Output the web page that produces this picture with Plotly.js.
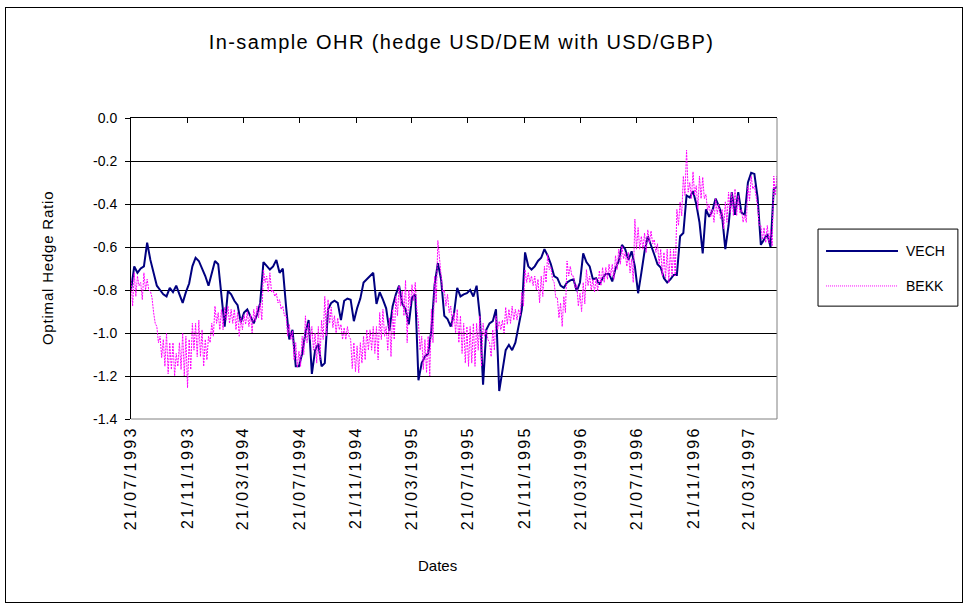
<!DOCTYPE html>
<html><head><meta charset="utf-8">
<script src="https://cdn.plot.ly/plotly-3.0.1.min.js"></script>
<style>
html,body{margin:0;padding:0;background:#fff;}
#wrap{position:relative;width:968px;height:608px;}
#chart{width:968px;height:608px;}
#frame{position:absolute;left:5px;top:7px;width:956px;height:594px;border:1px solid #000;pointer-events:none;}
#chart .xtick text{letter-spacing:2.4px;}
#chart .gtitle{letter-spacing:1.4px;}
#chart g.annotation[data-index="2"] text{letter-spacing:0.8px;}
</style></head>
<body><div id="wrap"><div id="chart"></div><div id="frame"></div></div>
<script>
// ---- data (weekly observations starting 21/07/1993) ----
const startDate = '1993-07-21';
const stepDays = 7;

const vech = [
-0.80,-0.69,-0.72,-0.70,-0.69,-0.58,-0.66,-0.72,-0.78,-0.80,
-0.82,-0.83,-0.79,-0.81,-0.78,-0.82,-0.86,-0.81,-0.77,-0.69,
-0.65,-0.665,-0.70,-0.735,-0.78,-0.72,-0.665,-0.68,-0.83,-0.97,
-0.805,-0.82,-0.85,-0.87,-0.95,-0.905,-0.89,-0.92,-0.955,-0.915,
-0.86,-0.67,-0.69,-0.705,-0.69,-0.66,-0.72,-0.70,-0.875,-1.03,
-0.985,-1.155,-1.155,-1.095,-1.00,-0.94,-1.19,-1.08,-1.05,-1.155,
-1.14,-0.89,-0.86,-0.85,-0.86,-0.94,-0.85,-0.84,-0.845,-0.945,
-0.885,-0.84,-0.765,-0.75,-0.735,-0.72,-0.865,-0.81,-0.845,-0.885,
-0.99,-0.875,-0.82,-0.78,-0.865,-0.89,-0.96,-0.835,-0.82,-1.22,
-1.14,-1.11,-1.095,-0.985,-0.775,-0.675,-0.75,-0.92,-0.935,-0.97,
-0.91,-0.79,-0.83,-0.82,-0.815,-0.80,-0.83,-0.78,-0.92,-1.24,
-0.985,-0.955,-0.945,-0.89,-1.27,-1.18,-1.08,-1.055,-1.08,-1.045,
-0.975,-0.89,-0.625,-0.69,-0.705,-0.69,-0.665,-0.65,-0.61,-0.64,
-0.68,-0.735,-0.745,-0.78,-0.79,-0.765,-0.755,-0.75,-0.805,-0.765,
-0.63,-0.67,-0.69,-0.75,-0.745,-0.775,-0.745,-0.725,-0.725,-0.76,
-0.70,-0.665,-0.59,-0.61,-0.66,-0.62,-0.69,-0.815,-0.72,-0.62,
-0.55,-0.59,-0.635,-0.68,-0.695,-0.745,-0.765,-0.75,-0.73,-0.73,
-0.55,-0.535,-0.36,-0.37,-0.34,-0.40,-0.485,-0.63,-0.425,-0.46,
-0.43,-0.375,-0.41,-0.455,-0.61,-0.50,-0.345,-0.45,-0.345,-0.44,
-0.45,-0.30,-0.255,-0.26,-0.37,-0.59,-0.565,-0.54,-0.60,-0.33,
-0.32
];

// BEKK oscillates strongly within each week: upper and lower reading per week
const bekkUpper = [
-0.75,-0.72,-0.735,-0.765,-0.72,-0.75,-0.805,-0.905,-0.97,-1.015,
-1.03,-1.0,-1.045,-1.045,-1.095,-1.045,-1.0,-1.015,-1.03,-0.955,
-0.955,-0.94,-0.985,-1.03,-1.015,-0.955,-0.875,-0.905,-0.89,-0.88,
-0.875,-0.89,-0.89,-0.905,-0.93,-0.915,-0.90,-0.915,-0.89,-0.875,
-0.86,-0.705,-0.735,-0.72,-0.80,-0.815,-0.845,-0.875,-0.915,-0.96,
-0.99,-1.045,-1.085,-1.015,-0.92,-0.955,-0.97,-1.0,-0.97,-0.94,
-0.83,-0.845,-0.88,-0.92,-0.93,-0.96,-0.975,-0.97,-1.03,-1.045,
-1.06,-1.045,-1.015,-0.985,-0.985,-0.97,-0.97,-0.905,-0.89,-0.97,
-0.93,-0.89,-0.83,-0.78,-0.805,-0.755,-0.80,-0.775,-0.765,-0.955,
-1.015,-1.03,-1.015,-0.89,-0.735,-0.57,-0.72,-0.80,-0.82,-0.875,
-0.905,-0.89,-0.92,-0.955,-0.97,-0.97,-0.955,-0.955,-0.92,-0.955,
-0.985,-1.045,-0.985,-0.92,-0.945,-0.94,-0.88,-0.89,-0.875,-0.89,
-0.89,-0.81,-0.705,-0.72,-0.735,-0.735,-0.75,-0.735,-0.69,-0.635,
-0.695,-0.765,-0.835,-0.86,-0.83,-0.665,-0.69,-0.735,-0.775,-0.815,
-0.765,-0.705,-0.735,-0.75,-0.745,-0.71,-0.695,-0.695,-0.68,-0.68,
-0.64,-0.61,-0.595,-0.625,-0.625,-0.655,-0.47,-0.51,-0.55,-0.535,
-0.52,-0.525,-0.565,-0.585,-0.61,-0.625,-0.61,-0.61,-0.61,-0.425,
-0.39,-0.27,-0.15,-0.30,-0.25,-0.315,-0.27,-0.275,-0.355,-0.40,
-0.425,-0.375,-0.40,-0.425,-0.39,-0.345,-0.345,-0.33,-0.36,-0.425,
-0.45,-0.315,-0.27,-0.315,-0.41,-0.50,-0.51,-0.50,-0.52,-0.27,
-0.27
];
const bekkLower = [
-0.875,-0.83,-0.78,-0.845,-0.80,-0.80,-0.835,-0.955,-1.045,-1.115,
-1.155,-1.19,-1.17,-1.20,-1.155,-1.17,-1.20,-1.255,-1.17,-1.08,
-1.11,-1.11,-1.155,-1.125,-1.045,-1.015,-0.955,-0.985,-0.985,-0.94,
-0.955,-0.955,-0.985,-1.015,-0.985,-0.96,-0.97,-1.0,-0.945,-0.93,
-0.94,-0.765,-0.81,-0.81,-0.83,-0.86,-0.89,-0.92,-1.015,-1.03,
-1.125,-1.16,-1.155,-1.10,-1.045,-1.03,-1.08,-1.14,-1.125,-1.03,
-1.015,-0.955,-0.975,-1.0,-0.985,-1.03,-1.03,-1.015,-1.165,-1.18,
-1.185,-1.14,-1.125,-1.08,-1.08,-1.095,-1.125,-1.03,-1.015,-1.08,
-1.11,-1.03,-0.92,-0.875,-0.92,-1.045,-0.875,-0.85,-0.89,-1.08,
-1.17,-1.185,-1.20,-1.045,-0.86,-0.655,-0.81,-0.875,-0.905,-0.97,
-1.0,-1.045,-1.095,-1.14,-1.155,-1.14,-1.155,-1.08,-1.155,-1.015,
-1.03,-1.11,-1.08,-0.985,-0.985,-1.0,-0.96,-0.955,-0.94,-0.94,
-0.92,-0.875,-0.765,-0.765,-0.78,-0.80,-0.86,-0.83,-0.765,-0.705,
-0.75,-0.835,-0.93,-0.97,-0.905,-0.735,-0.735,-0.79,-0.875,-0.90,
-0.865,-0.78,-0.80,-0.81,-0.805,-0.78,-0.765,-0.75,-0.735,-0.75,
-0.705,-0.68,-0.655,-0.69,-0.72,-0.765,-0.61,-0.61,-0.61,-0.625,
-0.58,-0.585,-0.625,-0.68,-0.735,-0.745,-0.765,-0.735,-0.735,-0.50,
-0.455,-0.36,-0.345,-0.375,-0.36,-0.425,-0.375,-0.375,-0.43,-0.46,
-0.485,-0.445,-0.47,-0.515,-0.485,-0.44,-0.455,-0.455,-0.44,-0.485,
-0.485,-0.385,-0.33,-0.375,-0.50,-0.565,-0.58,-0.58,-0.595,-0.36,
-0.345
];

const tickDates = ['1993-07-21','1993-11-21','1994-03-21','1994-07-21','1994-11-21','1995-03-21',
                   '1995-07-21','1995-11-21','1996-03-21','1996-07-21','1996-11-21','1997-03-21'];
const tickLabels = ['21/07/1993','21/11/1993','21/03/1994','21/07/1994','21/11/1994','21/03/1995',
                    '21/07/1995','21/11/1995','21/03/1996','21/07/1996','21/11/1996','21/03/1997'];
const yTicks = [0,-0.2,-0.4,-0.6,-0.8,-1.0,-1.2,-1.4];
const yTickLabels = ['0.0','-0.2','-0.4','-0.6','-0.8','-1.0','-1.2','-1.4'];
const rangeEnd = '1997-05-21';

// ---- build date columns ----
const DAY = 86400000;
const t0 = Date.parse(startDate + 'T00:00:00Z');
function iso(ms){ return new Date(ms).toISOString().slice(0,19).replace('T',' '); }
const vechDates = vech.map((_, k) => iso(t0 + k*stepDays*DAY));
const bekkX = [], bekkY = [];
bekkUpper.forEach((u, k) => {
  bekkX.push(iso(t0 + k*stepDays*DAY));            bekkY.push(u);
  bekkX.push(iso(t0 + (k*stepDays + 3.5)*DAY));    bekkY.push(bekkLower[k]);
});

const FONT = 'Liberation Sans, Arial, sans-serif';
const traces = [
  {x: vechDates, y: vech, type: 'scatter', mode: 'lines', name: 'VECH',
   line: {color: '#000080', width: 2}, showlegend: false, hoverinfo: 'skip'},
  {x: bekkX, y: bekkY, type: 'scatter', mode: 'lines', name: 'BEKK',
   line: {color: '#ff00ff', width: 1, dash: '2px,1px'}, showlegend: false, hoverinfo: 'skip'},
  {x: [startDate], y: [null], xaxis: 'x2', yaxis: 'y', type: 'scatter', mode: 'lines',
   showlegend: false, hoverinfo: 'skip'}
];

const layout = {
  width: 968, height: 608,
  margin: {l: 131, r: 191, t: 118, b: 189, pad: 0},
  paper_bgcolor: '#fff', plot_bgcolor: '#fff',
  font: {family: FONT, color: '#000', size: 13},
  showlegend: false,
  title: {text: 'In-sample OHR (hedge USD/DEM with USD/GBP)', font: {family: FONT, size: 20, color: '#000'},
          x: 0.4768, xref: 'container', xanchor: 'center', y: 0.931, yref: 'container', yanchor: 'middle'},
  xaxis: {type: 'date', range: [startDate, rangeEnd], tickmode: 'array', tickvals: tickDates, ticktext: tickLabels,
          tickangle: -90, ticks: '', showgrid: false, showline: false, zeroline: false,
          ticklabelstandoff: 3, tickfont: {family: FONT, size: 16, color: '#000'}},
  xaxis2: {type: 'date', overlaying: 'x', side: 'top', anchor: 'y', range: [startDate, rangeEnd],
           tickmode: 'array', tickvals: tickDates, ticks: 'inside', ticklen: 5, tickwidth: 1, tickcolor: '#000',
           showticklabels: false, showline: true, linecolor: '#000', linewidth: 1, showgrid: false, zeroline: false},
  yaxis: {range: [-1.4, 0], tickmode: 'array', tickvals: yTicks, ticktext: yTickLabels,
          ticks: 'outside', ticklen: 5, tickcolor: '#000', showline: true, linecolor: '#000', linewidth: 1,
          showgrid: true, gridcolor: '#000', gridwidth: 1, zeroline: false, ticklabelstandoff: 5,
          tickfont: {family: FONT, size: 14, color: '#000'}},
  shapes: [
    {type: 'line', xref: 'paper', yref: 'paper', x0: 1, x1: 1, y0: 0, y1: 1, line: {color: '#808080', width: 1}, layer: 'above'},
    {type: 'line', xref: 'paper', yref: 'paper', x0: 0, x1: 1, y0: 0, y1: 0, line: {color: '#808080', width: 1}, layer: 'above'},
    {type: 'rect', xref: 'paper', yref: 'paper', x0: 1.0635, x1: 1.280, y0: 0.375, y1: 0.631, line: {color: '#000', width: 1}, fillcolor: 'rgba(0,0,0,0)'},
    {type: 'line', xref: 'paper', yref: 'paper', x0: 1.0759, x1: 1.1873, y0: 0.558, y1: 0.558, line: {color: '#000080', width: 2}},
    {type: 'line', xref: 'paper', yref: 'paper', x0: 1.0759, x1: 1.1873, y0: 0.442, y1: 0.442, line: {color: '#ff00ff', width: 1, dash: '1px,1px'}}
  ],
  annotations: [
    {text: 'VECH', xref: 'paper', yref: 'paper', x: 1.196, y: 0.558, xanchor: 'left', yanchor: 'middle', showarrow: false, font: {family: FONT, size: 14}},
    {text: 'BEKK', xref: 'paper', yref: 'paper', x: 1.196, y: 0.442, xanchor: 'left', yanchor: 'middle', showarrow: false, font: {family: FONT, size: 14}},
    {text: 'Optimal Hedge Ratio', xref: 'paper', yref: 'paper', x: -0.130, y: 0.5, textangle: -90, xanchor: 'center', yanchor: 'middle', showarrow: false, font: {family: FONT, size: 15}},
    {text: 'Dates', xref: 'paper', yref: 'paper', x: 0.4737, y: -0.488, xanchor: 'center', yanchor: 'middle', showarrow: false, font: {family: FONT, size: 15}}
  ]
};

Plotly.newPlot('chart', traces, layout, {staticPlot: true, displayModeBar: false});
</script></body></html>
